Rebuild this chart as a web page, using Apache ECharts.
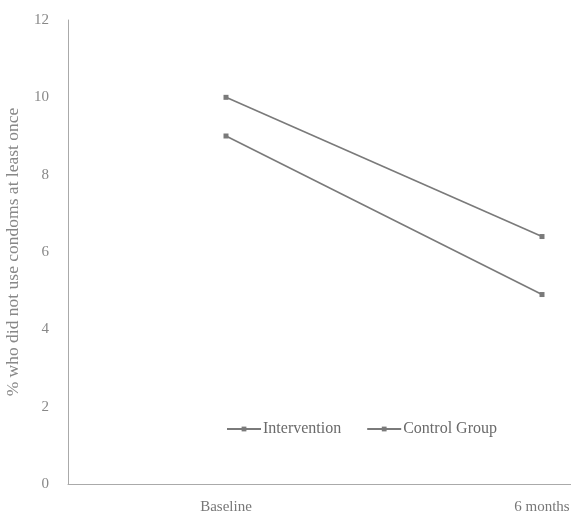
<!DOCTYPE html>
<html><head><meta charset="utf-8">
<script src="https://cdn.jsdelivr.net/npm/echarts@6/dist/echarts.min.js"></script>
<style>html,body{margin:0;padding:0;background:#fff}#c{width:571px;height:514px}</style>
</head><body><div id="c"></div>
<script>
const categories = ['Baseline', '6 months'];
const intervention = [9.0, 4.9];
const control = [10.0, 6.4];
const yTicks = [0, 2, 4, 6, 8, 10, 12];

const chart = echarts.init(document.getElementById('c'), null, {renderer: 'canvas'});
const grey = '#7a7a7a';
const font = '"Liberation Serif", "DejaVu Serif", serif';
chart.setOption({
  animation: false,
  backgroundColor: '#fff',
  grid: {left: 68, top: 20, width: 632, height: 464, outerBoundsMode: 'none', containLabel: false},
  legend: {
    left: 221, top: 416, itemGap: 25, itemWidth: 34, itemHeight: 6,
    textStyle: {fontFamily: font, fontSize: 16, color: '#6a6a6a', padding: [0, 0, 0, -3]},
    data: ['Intervention', 'Control Group']
  },
  xAxis: {
    type: 'category', data: categories, boundaryGap: true,
    axisLine: {lineStyle: {color: '#aaa', width: 1}},
    axisTick: {show: false},
    axisLabel: {fontFamily: font, fontSize: 15, color: '#777', margin: 16}
  },
  yAxis: {
    type: 'value', min: yTicks[0], max: yTicks[yTicks.length - 1], interval: 2,
    name: '% who did not use condoms at least once',
    nameLocation: 'middle', nameGap: 46, nameRotate: 90,
    nameTextStyle: {fontFamily: font, fontSize: 17.5, color: '#888'},
    axisLine: {show: true, lineStyle: {color: '#aaa', width: 1}},
    axisTick: {show: false},
    splitLine: {show: false},
    axisLabel: {fontFamily: font, fontSize: 15, color: '#888', margin: 19}
  },
  series: [
    {name: 'Intervention', type: 'line', data: intervention, symbol: 'rect', symbolSize: 5,
     lineStyle: {color: grey, width: 1.6}, itemStyle: {color: grey}},
    {name: 'Control Group', type: 'line', data: control, symbol: 'rect', symbolSize: 5,
     lineStyle: {color: grey, width: 1.6}, itemStyle: {color: grey}}
  ]
});
</script></body></html>
